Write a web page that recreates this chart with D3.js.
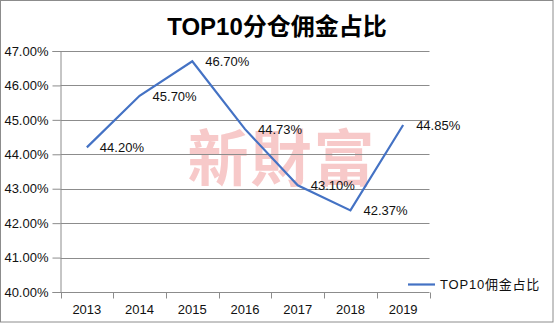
<!DOCTYPE html>
<html>
<head>
<meta charset="utf-8">
<script src="https://cdn.jsdelivr.net/npm/d3@7"></script>
<style>
  html, body { margin: 0; padding: 0; background: #fff; }
  svg { display: block; font-family: Arial, "Liberation Sans", "Noto Sans CJK SC", sans-serif; }
</style>
</head>
<body>
<svg id="chart" width="555" height="324"></svg>
<script>
// Chart data
const years = ["2013", "2014", "2015", "2016", "2017", "2018", "2019"];
const shareValues = [44.20, 45.70, 46.70, 44.73, 43.10, 42.37, 44.85];
const yTicks = [40, 41, 42, 43, 44, 45, 46, 47];
const titleText = "TOP10分仓佣金占比";
const seriesName = "TOP10佣金占比";
const watermarkText = "新財富";

const svg = d3.select("#chart");
const plot = { left: 60.5, right: 429.5, top: 51, bottom: 292 };
const gridColor = "#8c8c8c";
const lineColor = "#4472C4";

// Outer frame
svg.append("rect")
  .attr("x", 0.5).attr("y", 0.5)
  .attr("width", 552.5).attr("height", 321.5)
  .attr("fill", "#fff").attr("stroke", "#8c8c8c");

const x = d3.scaleBand().domain(years).range([plot.left, plot.right]).padding(0);
const y = d3.scaleLinear().domain([40, 47]).range([plot.bottom, plot.top]);

// Watermark sits behind the grid
svg.append("text")
  .attr("x", 282).attr("y", 181)
  .attr("text-anchor", "middle")
  .attr("font-family", "'Noto Sans CJK TC', 'Noto Sans CJK SC', sans-serif")
  .attr("font-weight", 700)
  .attr("font-size", 61)
  .attr("letter-spacing", 2)
  .attr("fill", "#f5bcbc")
  .attr("fill-opacity", 0.8)
  .text(watermarkText);

// Horizontal gridlines
svg.append("g")
  .selectAll("line")
  .data(yTicks.filter(d => d > 40))
  .join("line")
  .attr("x1", plot.left).attr("x2", plot.right)
  .attr("y1", d => Math.round(y(d)) + 0.5).attr("y2", d => Math.round(y(d)) + 0.5)
  .attr("stroke", gridColor);

// Y axis
const yAxis = d3.axisLeft(y)
  .tickValues(yTicks)
  .tickSize(8)
  .tickPadding(4)
  .tickFormat(d => d.toFixed(2) + "%");
const gy = svg.append("g")
  .attr("transform", `translate(${plot.left},0)`)
  .call(yAxis);
gy.select(".domain").attr("stroke", gridColor);
gy.selectAll(".tick line").attr("stroke", gridColor);
gy.selectAll(".tick text")
  .attr("font-size", 13)
  .attr("fill", "#111")
  .attr("font-family", "Arial, 'Liberation Sans', sans-serif");

// X axis with ticks at category boundaries
const gx = svg.append("g")
  .attr("transform", `translate(0,${plot.bottom + 0.5})`);
gx.append("line")
  .attr("x1", plot.left).attr("x2", plot.right)
  .attr("stroke", gridColor);
const bounds = years.map(d => x(d)).concat([x(years[years.length - 1]) + x.bandwidth()]);
gx.selectAll("line.tk")
  .data(bounds)
  .join("line")
  .attr("class", "tk")
  .attr("x1", d => Math.round(d) + 0.5).attr("x2", d => Math.round(d) + 0.5)
  .attr("y1", 0).attr("y2", 6)
  .attr("stroke", gridColor);
gx.selectAll("text")
  .data(years)
  .join("text")
  .attr("x", d => x(d) + x.bandwidth() / 2)
  .attr("y", 21)
  .attr("text-anchor", "middle")
  .attr("font-size", 13)
  .attr("fill", "#111")
  .text(d => d);

// Series line
const pts = years.map((yr, i) => ({ yr, v: shareValues[i] }));
const line = d3.line()
  .x(d => x(d.yr) + x.bandwidth() / 2)
  .y(d => y(d.v));
svg.append("path")
  .datum(pts)
  .attr("d", line)
  .attr("fill", "none")
  .attr("stroke", lineColor)
  .attr("stroke-width", 2.2)
  .attr("stroke-linejoin", "miter");

// Value labels to the right of each point
svg.append("g")
  .selectAll("text")
  .data(pts)
  .join("text")
  .attr("x", d => x(d.yr) + x.bandwidth() / 2 + 13)
  .attr("y", d => y(d.v) + 5)
  .attr("font-size", 13)
  .attr("fill", "#111")
  .text(d => d.v.toFixed(2) + "%");

// Title
svg.append("text")
  .attr("x", 277).attr("y", 35)
  .attr("text-anchor", "middle")
  .attr("font-size", 24)
  .attr("font-weight", "bold")
  .attr("fill", "#000")
  .text(titleText);

// Legend
const lg = svg.append("g").attr("transform", "translate(408,284.5)");
lg.append("line")
  .attr("x1", 0).attr("x2", 27)
  .attr("stroke", lineColor).attr("stroke-width", 2.2);
lg.append("text")
  .attr("x", 32).attr("y", 4.5)
  .attr("font-size", 13)
  .attr("fill", "#111")
  .attr("letter-spacing", 0.8)
  .text(seriesName);
</script>
</body>
</html>
